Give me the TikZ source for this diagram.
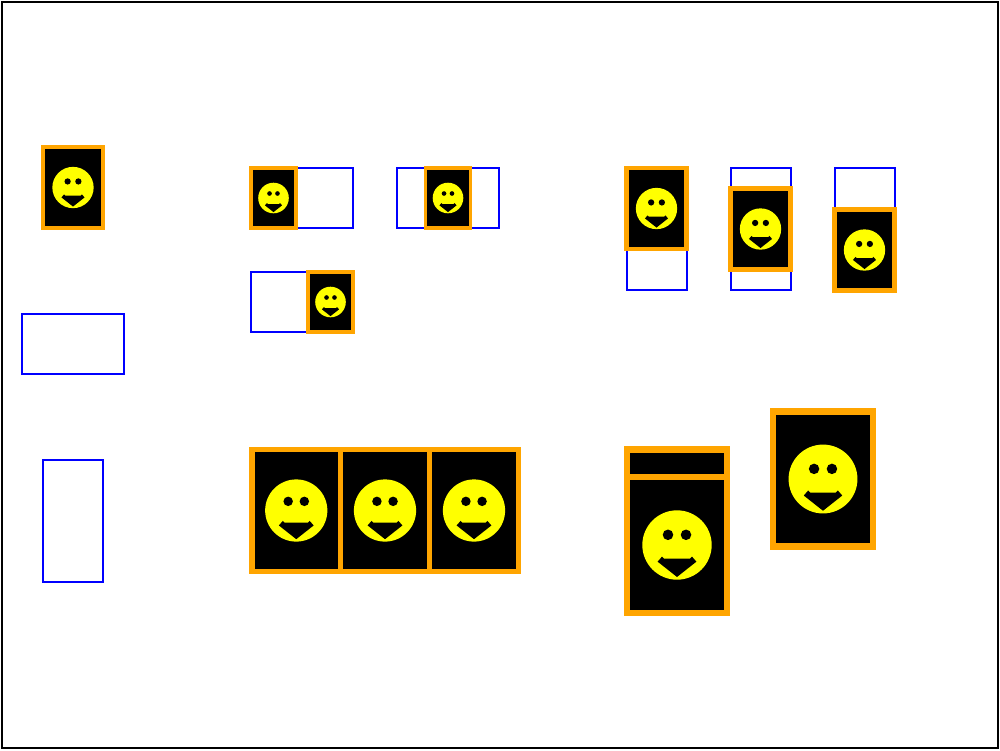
\documentclass[tikz,border=0pt]{standalone}
\usepackage{xcolor}
\definecolor{cardorange}{RGB}{255,165,0}
\definecolor{slotblue}{RGB}{0,0,255}
\definecolor{faceyellow}{RGB}{255,255,0}
\tikzset{
  slot/.style={draw=slotblue, line width=2pt},
  card/.style={draw=cardorange, fill=black, line width=#1},
  face/.style={fill=faceyellow},
  feature/.style={fill=black}
}
% x, y, width, height, stroke (all in pixels)
\newcommand{\smileycard}[5]{
  \draw[card=#5] (#1,#2) rectangle ++(#3,#4);
  \pgfmathsetmacro{\cardscale}{#4/40}
  \begin{scope}[shift={({#1+#3/2},{#2+#4/2})}, scale=\cardscale]
    \fill[face] (0,0) circle[radius=10.2pt];
    \fill[feature] (-2.65,-3) circle[radius=1.55pt];
    \fill[feature] (2.65,-3) circle[radius=1.55pt];
    \fill[feature] (-4.4,3.4) -- (-3.8,4) -- (3.8,4) -- (4.4,3.4) -- (5.7,4.9) -- (0,9.4) -- (-5.7,4.9) -- cycle;
  \end{scope}
}
\newcommand{\slotbox}[4]{\draw[slot] (#1,#2) rectangle ++(#3,#4);}
\begin{document}
\begin{tikzpicture}[x=1pt, y=-1pt]
  \useasboundingbox (0,0) rectangle (1000,750);
  \draw[black, line width=2pt] (2,2) rectangle (998,747.5);

  % left column
  \smileycard{43}{147}{60}{81}{4.5pt}
  \slotbox{22}{313.5}{102}{60}
  \slotbox{43}{459.5}{60}{122}

  % wide slots
  \slotbox{251}{168}{102}{60}
  \smileycard{251}{168}{45}{60}{3.5pt}
  \slotbox{397}{168}{102}{60}
  \smileycard{425.5}{168}{45}{60}{3.5pt}
  \slotbox{251}{272}{102}{60}
  \smileycard{308}{272}{45}{60}{3.5pt}

  % tall slots
  \slotbox{626.5}{168}{60}{122}
  \smileycard{626.5}{168}{60}{81}{4.5pt}
  \slotbox{730.5}{168}{60}{122}
  \smileycard{730.5}{188.5}{60}{81}{4.5pt}
  \slotbox{834.5}{168}{60}{122}
  \smileycard{834.5}{209.5}{60}{81}{4.5pt}

  % row of three
  \smileycard{252}{449.5}{88.5}{122}{5.5pt}
  \smileycard{340.5}{449.5}{89}{122}{5.5pt}
  \smileycard{429.5}{449.5}{89}{122}{5.5pt}

  % stacked and single
  \draw[card=6.5pt] (627,449.5) rectangle (727,490);
  \smileycard{627}{477}{100}{136}{6.5pt}
  \smileycard{773}{411.5}{100}{135}{6.5pt}
\end{tikzpicture}
\end{document}
